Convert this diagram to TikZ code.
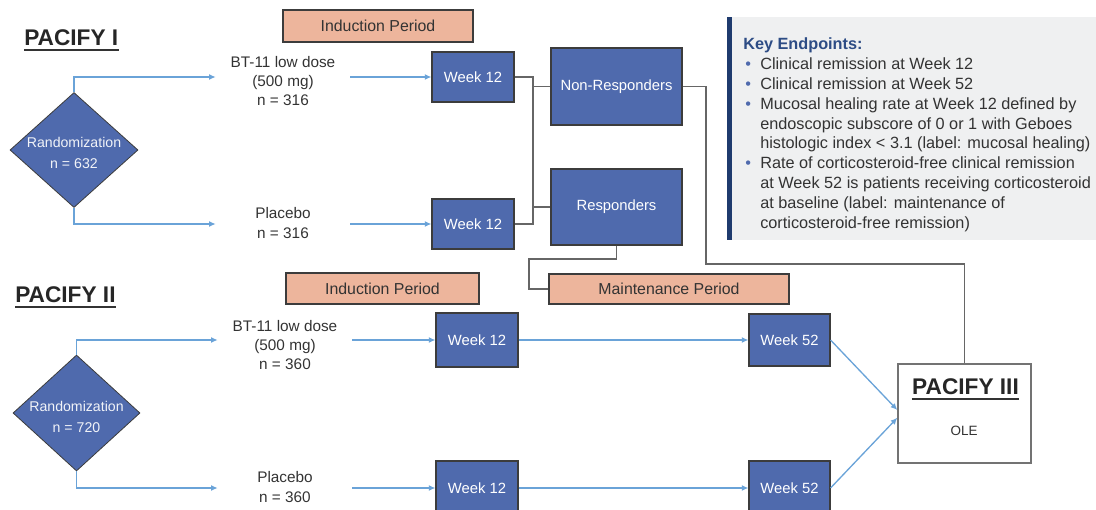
\documentclass[tikz,border=0pt]{standalone}
\usepackage{fontspec}
\setmainfont{Liberation Sans}
\usetikzlibrary{shapes.geometric,arrows.meta}

\definecolor{boxblue}{HTML}{4F6AAD}
\definecolor{boxedge}{HTML}{3C3C3C}
\definecolor{salmon}{HTML}{EDB59C}
\definecolor{flowblue}{HTML}{6AA3D8}
\definecolor{linkgray}{HTML}{666666}
\definecolor{inkgray}{HTML}{333333}
\definecolor{panelgray}{HTML}{EFF0F1}
\definecolor{panelbar}{HTML}{1F3B6E}
\definecolor{headnavy}{HTML}{2D4C85}

% bullet and hanging indent for the endpoint list
\newcommand{\keybullet}{\makebox[12.75pt][l]{\hspace{1.6pt}\textcolor{boxblue}{\textbullet}}}
\newcommand{\keyindent}{\makebox[12.75pt]{}}

\begin{document}
\begin{tikzpicture}[x=0.75pt,y=-0.75pt,
  bluebox/.style={draw=boxedge, line width=0.8pt, fill=boxblue, text=white,
    font=\fontsize{11.1}{13}\selectfont, inner sep=0pt},
  periodbox/.style={draw=boxedge, line width=0.9pt, fill=salmon, text=inkgray,
    font=\fontsize{11.9}{14}\selectfont, inner sep=0pt},
  randbox/.style={diamond, draw=boxedge, line width=0.6pt, fill=boxblue, inner sep=0pt},
  randtext/.style={text=white!92!boxblue, font=\fontsize{10.6}{15.75}\selectfont, align=center, inner sep=0pt},
  armtext/.style={text=inkgray, font=\fontsize{11.5}{14.6}\selectfont, align=center,
    inner sep=0pt, minimum width=100.5pt},
  flow/.style={draw=flowblue, line width=1pt, -{Latex[length=5pt,width=4.5pt]}},
  link/.style={draw=linkgray, line width=1.1pt},
  trialtitle/.style={font=\fontsize{17}{19}\selectfont\bfseries, text=black!85, inner sep=0pt},
  underbar/.style={draw=black!80, line width=1.5pt}
]
\useasboundingbox (0,0) rectangle (1096,510);

% ---------------- PACIFY I ----------------
\node[trialtitle, anchor=base west] (t1) at (24,46) {PACIFY I};
\draw[underbar] ([yshift=-3.2pt]t1.base west) -- ([yshift=-3.2pt]t1.base east);

\node[periodbox, minimum width=142.5pt, minimum height=24pt] (ind1) at (378,26) {Induction Period};

\node[randbox, minimum width=96pt, minimum height=86.25pt] (d1) at (74,150) {};
\node[randtext] (d1t) at (74,153) {Randomization\\n = 632};

\node[armtext] (arm1a) at (283,81) {BT-11 low dose\\(500 mg)\\n = 316};
\node[armtext] (arm1b) at (283,223) {Placebo\\n = 316};

\node[bluebox, minimum width=61.5pt, minimum height=37.5pt] (wk12a) at (473,77) {Week 12};
\node[bluebox, minimum width=61.5pt, minimum height=37.5pt] (wk12b) at (473,224) {Week 12};

\node[bluebox, minimum width=98.25pt, minimum height=57.75pt] (nonresp) at (616.5,86.5) {Non-Responders};
\node[bluebox, minimum width=98.25pt, minimum height=57pt] (resp) at (616.5,207) {Responders};

\draw[flow] (d1.north) |- (arm1a.west |- wk12a.west);
\draw[flow] (arm1a.east |- wk12a.west) -- (wk12a.west);
\draw[flow] (d1.south) |- (arm1b.west |- wk12b.west);
\draw[flow] (arm1b.east |- wk12b.west) -- (wk12b.west);

% responder split
\coordinate (bx) at (533,0);
\draw[link] (wk12a.east) -| (bx |- wk12b.east) -- (wk12b.east);
\draw[link] (bx |- nonresp.west) -- (nonresp.west);
\draw[link] (bx |- resp.west) -- (resp.west);

% ---------------- PACIFY II ----------------
\node[trialtitle, anchor=base west] (t2) at (15,302) {PACIFY II};
\draw[underbar] ([yshift=-4pt]t2.base west) -- ([yshift=-4pt]t2.base east);

\node[periodbox, minimum width=144.75pt, minimum height=23.25pt] (ind2) at (382.5,288.5) {Induction Period};
\node[periodbox, minimum width=180pt, minimum height=22.5pt] (maint) at (669,289) {Maintenance Period};

\node[randbox, minimum width=95.25pt, minimum height=87pt] (d2) at (76.5,413) {};
\node[randtext] (d2t) at (76.5,416.5) {Randomization\\n = 720};

\node[armtext] (arm2a) at (285,345) {BT-11 low dose\\(500 mg)\\n = 360};
\node[armtext] (arm2b) at (285,487) {Placebo\\n = 360};

\node[bluebox, minimum width=61.5pt, minimum height=40.5pt] (wk12c) at (477,340) {Week 12};
\node[bluebox, minimum width=61.5pt, minimum height=40.5pt] (wk12d) at (477,488) {Week 12};
\node[bluebox, minimum width=60.75pt, minimum height=39pt] (wk52a) at (789.5,340) {Week 52};
\node[bluebox, minimum width=60.75pt, minimum height=40.5pt] (wk52b) at (789.5,488) {Week 52};

\draw[flow] (d2.north) |- (arm2a.west |- wk12c.west);
\draw[flow] (arm2a.east |- wk12c.west) -- (wk12c.west);
\draw[flow] (d2.south) |- (arm2b.west |- wk12d.west);
\draw[flow] (arm2b.east |- wk12d.west) -- (wk12d.west);
\draw[flow] (wk12c.east) -- (wk52a.west);
\draw[flow] (wk12d.east) -- (wk52b.west);

% ---------------- PACIFY III ----------------
\node[draw=black!55, line width=1pt, fill=white, minimum width=99.75pt, minimum height=74.25pt] (pac3) at (964.5,413.5) {};
\node[trialtitle, anchor=base] (t3) at (965.5,394) {PACIFY III};
\draw[underbar] ([yshift=-3.6pt]t3.base west) -- ([yshift=-3.6pt]t3.base east);
\node[text=inkgray, font=\fontsize{10.1}{12}\selectfont] (ole) at (964,431) {OLE};

\draw[flow] (wk52a.east) -- ([yshift=2.6pt]pac3.west);
\draw[flow] (wk52b.east) -- ([yshift=-3.2pt]pac3.west);

% non-responders go on to the open-label extension, responders to maintenance
\coordinate (nrbend) at (706,264);
\draw[link] (nonresp.east) -| (nrbend) -| (pac3.north);
\coordinate (rbend) at (529,259);
\draw[link] (resp.south) |- (rbend) |- (maint.west);

% ---------------- endpoint panel ----------------
\fill[panelgray] (727,17) rectangle (1096,240);
\fill[panelbar] (727,17) rectangle (732,240);
\node[anchor=north west, align=left, inner sep=0pt, text=inkgray,
      font=\fontsize{12.2}{14.85}\selectfont] (keys) at (743,37.8)
  {{\bfseries\color{headnavy}Key Endpoints:}\\
   \keybullet Clinical remission at Week 12\\
   \keybullet Clinical remission at Week 52\\
   \keybullet Mucosal healing rate at Week 12 defined by\\
   \keyindent endoscopic subscore of 0 or 1 with Geboes\\
   \keyindent histologic index < 3.1 (label: mucosal healing)\\
   \keybullet Rate of corticosteroid-free clinical remission\\
   \keyindent at Week 52 is patients receiving corticosteroid\\
   \keyindent at baseline (label: maintenance of\\
   \keyindent corticosteroid-free remission)};
\end{tikzpicture}
\end{document}
